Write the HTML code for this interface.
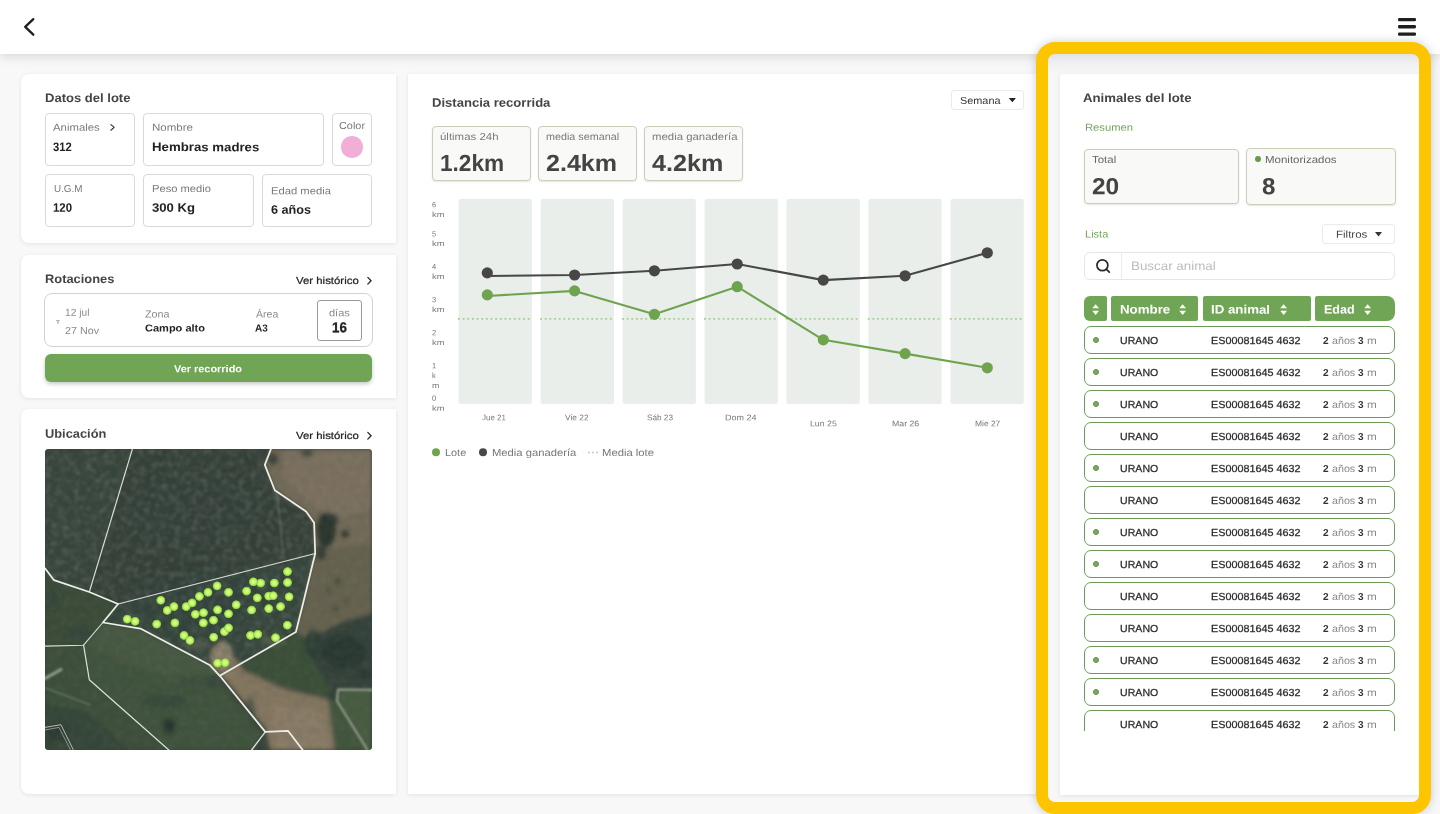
<!DOCTYPE html>
<html><head><meta charset="utf-8"><title>Lote</title>
<style>
html,body{margin:0;padding:0}
body{width:1440px;height:814px;overflow:hidden;position:relative;background:#f8f8f8;font-family:"Liberation Sans",sans-serif;}
#app{position:absolute;left:0;top:0;width:1440px;height:814px;will-change:transform}
.t{position:absolute;white-space:nowrap;line-height:1;display:block}
.b{position:absolute;box-sizing:border-box}
svg{position:absolute;overflow:visible}
.card{background:#fff;box-shadow:0 1px 4px rgba(0,0,0,.09)}
.box{border:1px solid #d9d9d9;border-radius:4px;background:#fff}
.gbox{border:1px solid #c9cfb9;border-radius:4px;background:#f9f9f7;box-shadow:0 1px 2px rgba(0,0,0,.10)}
.row{border:1px solid #6b9a57;border-radius:7px;background:#fff}
.hd{background:#71a556}
</style></head><body>
<div id="app">
<div class="b" style="left:0px;top:0px;width:1440px;height:54px;background:#fff;box-shadow:0 3px 10px rgba(0,0,0,.13);"></div>
<svg style="left:0;top:0" width="60" height="54"><polyline points="33.3,19.1 25.2,26.9 33.3,34.7" fill="none" stroke="#1f1f1f" stroke-width="2.3" stroke-linecap="round" stroke-linejoin="round"/></svg>
<svg style="left:1390px;top:10px" width="34" height="34"><rect x="8" y="7.899999999999999" width="18" height="3.3" rx="1.3" fill="#1f1f1f"/><rect x="8" y="15.100000000000001" width="18" height="3.3" rx="1.3" fill="#1f1f1f"/><rect x="8" y="22.4" width="18" height="3.3" rx="1.3" fill="#1f1f1f"/></svg>
<div class="b card" style="left:21px;top:74px;width:375.4px;height:169px;border-radius:8px 0 0 8px;"></div>
<span class="t" style="left:45.10px;top:92px;font-size:12px;font-weight:700;color:#444;transform-origin:0 10px;transform:translateY(0.00px) rotate(0.03deg) scale(1.086,1.020);">Datos del lote</span>
<div class="b box" style="left:45px;top:113px;width:90px;height:53px;"></div>
<div class="b box" style="left:143px;top:113px;width:181px;height:53px;"></div>
<div class="b box" style="left:332px;top:113px;width:40px;height:53px;"></div>
<div class="b box" style="left:45px;top:174px;width:90px;height:53px;"></div>
<div class="b box" style="left:143px;top:174px;width:110.5px;height:53px;"></div>
<div class="b box" style="left:262px;top:174px;width:110px;height:53px;"></div>
<span class="t" style="left:53.30px;top:123px;font-size:10px;font-weight:400;color:#7a7a7a;transform-origin:0 8px;transform:translateY(-0.20px) rotate(0.03deg) scale(1.136,1.020);">Animales</span>
<svg style="left:108px;top:122px" width="10" height="12"><polyline points="2.9,2.6 6.2,5.4 2.9,8.2" fill="none" stroke="#333" stroke-width="1.2" stroke-linecap="round" stroke-linejoin="round"/></svg>
<span class="t" style="left:53.00px;top:141px;font-size:12px;font-weight:700;color:#222;transform-origin:0 10px;transform:translateY(0.10px) rotate(0.03deg) scale(0.934,1.020);">312</span>
<span class="t" style="left:152.00px;top:123px;font-size:10px;font-weight:400;color:#7a7a7a;transform-origin:0 8px;transform:translateY(-0.20px) rotate(0.03deg) scale(1.153,1.020);">Nombre</span>
<span class="t" style="left:152.00px;top:141px;font-size:12px;font-weight:700;color:#222;transform-origin:0 10px;transform:translateY(0.10px) rotate(0.03deg) scale(1.102,1.020);">Hembras madres</span>
<span class="t" style="left:338.60px;top:121px;font-size:10px;font-weight:400;color:#7a7a7a;transform-origin:0 8px;transform:translateY(-0.10px) rotate(0.03deg) scale(1.088,1.020);">Color</span>
<div class="b" style="left:341px;top:136px;width:21.6px;height:21.6px;background:#f1afd8;border-radius:50%;"></div>
<span class="t" style="left:53.50px;top:184px;font-size:10px;font-weight:400;color:#7a7a7a;transform-origin:0 8px;transform:translateY(0.00px) rotate(0.03deg) scale(0.987,1.020);">U.G.M</span>
<span class="t" style="left:53.00px;top:202px;font-size:12px;font-weight:700;color:#222;transform-origin:0 10px;transform:translateY(-0.20px) rotate(0.03deg) scale(0.949,1.020);">120</span>
<span class="t" style="left:152.00px;top:184px;font-size:10px;font-weight:400;color:#7a7a7a;transform-origin:0 8px;transform:translateY(0.00px) rotate(0.03deg) scale(1.117,1.020);">Peso medio</span>
<span class="t" style="left:152.00px;top:202px;font-size:12px;font-weight:700;color:#222;transform-origin:0 10px;transform:translateY(-0.20px) rotate(0.03deg) scale(1.093,1.020);">300 Kg</span>
<span class="t" style="left:270.80px;top:186px;font-size:10px;font-weight:400;color:#7a7a7a;transform-origin:0 8px;transform:translateY(0.20px) rotate(0.03deg) scale(1.124,1.020);">Edad media</span>
<span class="t" style="left:270.80px;top:204px;font-size:12px;font-weight:700;color:#222;transform-origin:0 10px;transform:translateY(-0.20px) rotate(0.03deg) scale(1.052,1.020);">6 años</span>
<div class="b card" style="left:21px;top:254.5px;width:375.4px;height:143.5px;border-radius:8px 0 0 8px;"></div>
<span class="t" style="left:45.00px;top:273px;font-size:12px;font-weight:700;color:#444;transform-origin:0 10px;transform:translateY(-0.10px) rotate(0.03deg) scale(1.071,1.020);">Rotaciones</span>
<span class="t" style="left:296.00px;top:276px;font-size:10px;font-weight:400;color:#222;transform-origin:0 8px;transform:translateY(0.00px) rotate(0.03deg) scale(1.140,1.020);-webkit-text-stroke:0.22px #222;">Ver histórico</span>
<svg style="left:365px;top:275px" width="10" height="12"><polyline points="2.8,2.4 6.1,5.7 2.8,9.1" fill="none" stroke="#2a2a2a" stroke-width="1.3" stroke-linecap="round" stroke-linejoin="round"/></svg>
<div class="b" style="left:44px;top:293px;width:329px;height:54px;border:1px solid #d2d2d2;border-radius:8px;background:#fff;"></div>
<span class="t" style="left:65.00px;top:308px;font-size:10px;font-weight:400;color:#8a8a8a;transform-origin:0 8px;transform:translateY(-0.20px) rotate(0.03deg) scale(1.021,1.020);">12 jul</span>
<span class="t" style="left:65.00px;top:326px;font-size:10px;font-weight:400;color:#8a8a8a;transform-origin:0 8px;transform:translateY(-0.10px) rotate(0.03deg) scale(1.073,1.020);">27 Nov</span>
<svg style="left:54px;top:318px" width="8" height="8"><path d="M2.1 2 H5.8 V2.9 H4.7 V5.8 H3.2 V2.9 H2.1 Z" fill="#b4b4b4"/></svg>
<span class="t" style="left:145.00px;top:309px;font-size:10px;font-weight:400;color:#8a8a8a;transform-origin:0 8px;transform:translateY(0.40px) rotate(0.03deg) scale(1.079,1.020);">Zona</span>
<span class="t" style="left:145.00px;top:324px;font-size:10px;font-weight:700;color:#222;transform-origin:0 8px;transform:translateY(-0.50px) rotate(0.03deg) scale(1.102,1.020);">Campo alto</span>
<span class="t" style="left:255.50px;top:309px;font-size:10px;font-weight:400;color:#8a8a8a;transform-origin:0 8px;transform:translateY(0.40px) rotate(0.03deg) scale(1.056,1.020);">Área</span>
<span class="t" style="left:255.10px;top:324px;font-size:10px;font-weight:700;color:#222;transform-origin:0 8px;transform:translateY(-0.50px) rotate(0.03deg) scale(1.001,1.020);">A3</span>
<div class="b" style="left:317px;top:300px;width:45px;height:41px;border:1px solid #9a9a9a;border-radius:3px;background:#fff;"></div>
<span class="t" style="left:329.30px;top:308px;font-size:10px;font-weight:400;color:#8a8a8a;transform-origin:0 8px;transform:translateY(0.30px) rotate(0.03deg) scale(1.101,1.020);">días</span>
<span class="t" style="left:331.90px;top:320px;font-size:14px;font-weight:700;color:#222;transform-origin:0 12px;transform:translateY(0.30px) rotate(0.03deg) scale(0.951,1.020);-webkit-text-stroke:0.3px #222;">16</span>
<div class="b" style="left:45px;top:354px;width:327px;height:28px;background:#71a556;border-radius:6px;box-shadow:0 2px 4px rgba(0,0,0,.22);"></div>
<span class="t" style="left:174.40px;top:364px;font-size:10px;font-weight:700;color:#fff;transform-origin:0 8px;transform:translateY(0.20px) rotate(0.03deg) scale(1.092,1.020);">Ver recorrido</span>
<div class="b card" style="left:21px;top:409px;width:375.4px;height:385px;border-radius:8px 0 0 8px;"></div>
<span class="t" style="left:45.00px;top:428px;font-size:12px;font-weight:700;color:#444;transform-origin:0 10px;transform:translateY(-0.20px) rotate(0.03deg) scale(1.069,1.020);">Ubicación</span>
<span class="t" style="left:296.00px;top:431px;font-size:10px;font-weight:400;color:#222;transform-origin:0 8px;transform:translateY(0.00px) rotate(0.03deg) scale(1.140,1.020);-webkit-text-stroke:0.22px #222;">Ver histórico</span>
<svg style="left:365px;top:430px" width="10" height="12"><polyline points="2.8,2.4 6.1,5.7 2.8,9.1" fill="none" stroke="#2a2a2a" stroke-width="1.3" stroke-linecap="round" stroke-linejoin="round"/></svg>
<svg style="left:45px;top:449px" width="327" height="301" viewBox="0 0 327 301"><defs>
<clipPath id="mc"><rect x="0" y="0" width="327" height="301" rx="3.5"/></clipPath>
<filter id="bl" x="-10%" y="-10%" width="120%" height="120%"><feGaussianBlur stdDeviation="2.2"/></filter>
<filter id="bl2" x="-20%" y="-20%" width="140%" height="140%"><feGaussianBlur stdDeviation="4"/></filter>
<filter id="bl1" x="-20%" y="-20%" width="140%" height="140%"><feGaussianBlur stdDeviation="1.3"/></filter>
<filter id="nz" x="0" y="0" width="100%" height="100%"><feTurbulence type="fractalNoise" baseFrequency="0.17" numOctaves="3" seed="7"/><feColorMatrix type="matrix" values="0 0 0 0 0.60  0 0 0 0 0.65  0 0 0 0 0.59  2.4 0 0 0 -1.08"/><feGaussianBlur stdDeviation="1.1"/></filter>
<filter id="nz2" x="0" y="0" width="100%" height="100%"><feTurbulence type="fractalNoise" baseFrequency="0.14" numOctaves="3" seed="3"/><feColorMatrix type="matrix" values="0 0 0 0 0.08  0 0 0 0 0.1  0 0 0 0 0.09  0 2.4 0 0 -1.0"/><feGaussianBlur stdDeviation="1.1"/></filter>
<radialGradient id="dg"><stop offset="0" stop-color="#e0ff9a"/><stop offset="0.35" stop-color="#ccfb78"/><stop offset="0.68" stop-color="#aeea55"/><stop offset="0.86" stop-color="#8fcf43" stop-opacity=".85"/><stop offset="1" stop-color="#7fbf3a" stop-opacity="0"/></radialGradient>
</defs><g clip-path="url(#mc)"><rect width="327" height="301" fill="#35423a"/><g filter="url(#bl)"><polygon points="0,0 87.4,0 44.3,143 9,131 0,119" fill="#37443b" /><polygon points="87.4,0 226,0 220,16 230,41 261,62 269,74 270,104.5 73,155 44.3,143" fill="#343f37" /><polygon points="73,155 270,104.5 251,183 175,227 165,216 95,180 58,173.5" fill="#34443a" /><polygon points="226,0 220,16 230,41 261,62 269,74 270,104.5 259,151 251,183 262,190 300,172 327,160 327,0" fill="#726a58" /><polygon points="240,0 327,0 327,60 290,70 262,52 238,30" fill="#7b715f" /><polygon points="272,100 327,95 327,165 300,172 262,190 252,183 262,140" fill="#666250" /><polygon points="0,119 9,131 44,143 73,155 58,173.5 95,180 165,216 175,227 220,283 207,301 0,301" fill="#3f523e" /><polygon points="0,125 9,131 44,143 73,155 58,173.5 38.6,196 0,197" fill="#3b4c39" /><polygon points="58,174 95,180 165,216 172,226 120,228 60,205 40,196" fill="#465942" /><polygon points="0,197 38.6,196 44.3,231 123.8,301 0,301" fill="#3c4f3b" /><polygon points="0,255 40,262 85,301 0,301" fill="#364739" /><polygon points="197,214 251,184 262,192 270,215 285,240 283,248 240,238 205,223" fill="#3a4f37" /><polygon points="166,200 178,194 192,212 200,222 240,240 283,250 290,301 225,301 221,283 176,228 166,216" fill="#84765f" /><polygon points="225,255 275,262 285,301 232,301" fill="#8a7c66" /><polygon points="283,250 292,252 322,301 290,301" fill="#42553e" /><polygon points="293,240 327,240 327,301 322,301 292,252" fill="#465c41" /></g><g filter="url(#bl)"><ellipse cx="281" cy="81" rx="9.5" ry="17" fill="#29332d" opacity="0.95"/><ellipse cx="287" cy="71" rx="6" ry="6" fill="#2b352e" opacity="0.9"/><ellipse cx="276" cy="103" rx="5" ry="8" fill="#2b352f" opacity="0.8"/><ellipse cx="228" cy="10" rx="5" ry="6" fill="#2a332d" opacity="0.7"/><ellipse cx="262" cy="4" rx="6" ry="4" fill="#3a4238" opacity="0.8"/><ellipse cx="298" cy="203" rx="23" ry="17" fill="#2b3932" opacity="1"/><ellipse cx="268" cy="195" rx="8" ry="14" fill="#2f3d35" opacity="0.9"/><ellipse cx="316" cy="186" rx="9" ry="8" fill="#34443a" opacity="0.7"/><ellipse cx="318" cy="226" rx="8" ry="6" fill="#2d3a33" opacity="0.8"/><ellipse cx="300" cy="85" rx="3.8" ry="3.8" fill="#30372b" opacity="0.95"/><ellipse cx="293" cy="132" rx="3" ry="3" fill="#3b4232" opacity="0.9"/><ellipse cx="283" cy="141" rx="2.6" ry="2.6" fill="#454a38" opacity="0.8"/><ellipse cx="291" cy="160" rx="3" ry="3" fill="#444a38" opacity="0.8"/><ellipse cx="301" cy="152" rx="2.5" ry="2.5" fill="#4a4e3c" opacity="0.7"/><ellipse cx="120" cy="252" rx="22" ry="7" fill="#34463a" opacity="0.75"/><ellipse cx="124" cy="277" rx="6" ry="8" fill="#26332b" opacity="0.9"/><ellipse cx="150" cy="234" rx="20" ry="6" fill="#3a4c3d" opacity="0.6"/><ellipse cx="35" cy="186" rx="12" ry="6" fill="#32433a" opacity="0.7"/><ellipse cx="8" cy="150" rx="7" ry="8" fill="#34453b" opacity="0.6"/><ellipse cx="12" cy="283" rx="10" ry="9" fill="#2c3a32" opacity="0.8"/><ellipse cx="170" cy="232" rx="8" ry="6" fill="#33433a" opacity="0.7"/><polyline points="178,232 200,258 220,284" fill="none" stroke="#2c3a31" stroke-width="5" opacity=".75"/><ellipse cx="205" cy="262" rx="5" ry="14" fill="#3a4a3d" opacity="0.6"/><ellipse cx="150" cy="150" rx="60" ry="30" fill="#34423b" opacity="0.5"/><ellipse cx="150" cy="60" rx="70" ry="40" fill="#34413b" opacity="0.35"/><ellipse cx="178" cy="205" rx="9" ry="13" fill="#8f856e" opacity="0.85"/><ellipse cx="152" cy="196" rx="10" ry="5" fill="#6d705a" opacity="0.5"/><ellipse cx="228" cy="192" rx="14" ry="6" fill="#5f6650" opacity="0.5"/></g><clipPath id="fc"><polygon points="0,0 226,0 220,16 230,41 261,62 269,74 270,104.5 251,183 175,227 165,216 95,180 58,173.5 73,155 44,143 9,131 0,119"/></clipPath><g clip-path="url(#fc)"><rect width="327" height="301" filter="url(#nz2)" opacity=".32"/><rect width="327" height="301" filter="url(#nz)" opacity=".13"/></g><rect width="327" height="301" filter="url(#nz2)" opacity=".2"/><rect width="327" height="301" filter="url(#nz)" opacity=".06"/><g fill="none" stroke-linecap="round" stroke-linejoin="round" filter="url(#bl1)"><polyline points="327,241 293,240.5 292,252 322.5,301" stroke="#9aa091" stroke-width="2.0"/><polyline points="0,229.5 16,220.5" stroke="#8fa088" stroke-width="3"/><polyline points="0,238.7 45,255.7" stroke="#6f866b" stroke-width="1.6" opacity=".7"/><polyline points="232,42 238,104" stroke="#6f7f74" stroke-width="1.6" opacity=".55"/></g><filter id="bl0"><feGaussianBlur stdDeviation="0.35"/></filter><g fill="none" stroke="#eceee8" stroke-linejoin="round" stroke-linecap="round" filter="url(#bl0)"><polyline points="87.4,0 44.3,143" stroke-width="1.1" opacity=".92"/><polyline points="270.2,104.5 73.1,155" stroke-width="1.1" opacity=".9"/><polyline points="57.9,173.5 38.6,196.2 0,197.1" stroke-width="1.1" opacity=".9"/><polyline points="38.6,196.2 44.3,230.7 123.8,301" stroke-width="1.2" opacity=".92"/><polyline points="220.3,282.9 206.6,301" stroke-width="1.3" opacity=".92"/><polyline points="0,278.4 15.9,275.7 28.4,301" stroke-width=".9" opacity=".8"/><polyline points="0,281 14,278.4 25.5,301" stroke-width=".8" opacity=".6"/><polyline points="0,119.2 9,131.2 44.3,143 73.1,155 57.9,173.5 95.4,179.6 164.6,215.9 174.8,226.8 220.3,282.9 243,281.8 257.7,301" stroke-width="1.75"/><polyline points="226,0 219.8,15.9 229.8,41.3 261.1,62.4 269.1,73.8 270.2,104.5 258.9,151 250.9,183 174.8,226.8" stroke-width="1.75"/></g><circle cx="115.8" cy="151.2" r="4.8" fill="url(#dg)"/><circle cx="129" cy="157.6" r="4.8" fill="url(#dg)"/><circle cx="122.2" cy="161.4" r="4.8" fill="url(#dg)"/><circle cx="141.2" cy="157.6" r="4.8" fill="url(#dg)"/><circle cx="147.1" cy="153.9" r="4.8" fill="url(#dg)"/><circle cx="154.4" cy="147.4" r="4.8" fill="url(#dg)"/><circle cx="163" cy="143.3" r="4.8" fill="url(#dg)"/><circle cx="183.5" cy="143.3" r="4.8" fill="url(#dg)"/><circle cx="201.6" cy="142.1" r="4.8" fill="url(#dg)"/><circle cx="212.3" cy="148.9" r="4.8" fill="url(#dg)"/><circle cx="223.7" cy="147.1" r="4.8" fill="url(#dg)"/><circle cx="228.2" cy="146.7" r="4.8" fill="url(#dg)"/><circle cx="244.1" cy="147.8" r="4.8" fill="url(#dg)"/><circle cx="235.5" cy="157.6" r="4.8" fill="url(#dg)"/><circle cx="223.7" cy="159.6" r="4.8" fill="url(#dg)"/><circle cx="206.6" cy="161" r="4.8" fill="url(#dg)"/><circle cx="191.2" cy="155.8" r="4.8" fill="url(#dg)"/><circle cx="183.5" cy="164.8" r="4.8" fill="url(#dg)"/><circle cx="172.6" cy="160.8" r="4.8" fill="url(#dg)"/><circle cx="158.5" cy="163.7" r="4.8" fill="url(#dg)"/><circle cx="150.3" cy="165.3" r="4.8" fill="url(#dg)"/><circle cx="168.5" cy="171.2" r="4.8" fill="url(#dg)"/><circle cx="158.3" cy="173.9" r="4.8" fill="url(#dg)"/><circle cx="129.9" cy="173.9" r="4.8" fill="url(#dg)"/><circle cx="111.7" cy="175.1" r="4.8" fill="url(#dg)"/><circle cx="82.2" cy="170.1" r="4.8" fill="url(#dg)"/><circle cx="90.1" cy="172.3" r="4.8" fill="url(#dg)"/><circle cx="139" cy="186.4" r="4.8" fill="url(#dg)"/><circle cx="144.9" cy="191.4" r="4.8" fill="url(#dg)"/><circle cx="168.7" cy="188.2" r="4.8" fill="url(#dg)"/><circle cx="179.4" cy="182.6" r="4.8" fill="url(#dg)"/><circle cx="183.5" cy="178.9" r="4.8" fill="url(#dg)"/><circle cx="205.5" cy="186.4" r="4.8" fill="url(#dg)"/><circle cx="212.8" cy="185.3" r="4.8" fill="url(#dg)"/><circle cx="230.5" cy="188.7" r="4.8" fill="url(#dg)"/><circle cx="242.3" cy="176.2" r="4.8" fill="url(#dg)"/><circle cx="172.6" cy="214.1" r="4.8" fill="url(#dg)"/><circle cx="180.1" cy="213.7" r="4.8" fill="url(#dg)"/><circle cx="242.5" cy="122.6" r="4.8" fill="url(#dg)"/><circle cx="242.5" cy="133.5" r="4.8" fill="url(#dg)"/><circle cx="229.3" cy="134" r="4.8" fill="url(#dg)"/><circle cx="215.7" cy="134" r="4.8" fill="url(#dg)"/><circle cx="208.4" cy="132.8" r="4.8" fill="url(#dg)"/><circle cx="172.1" cy="136.9" r="4.8" fill="url(#dg)"/></g></svg>
<div class="b card" style="left:408px;top:74px;width:632px;height:720px;border-radius:0;"></div>
<span class="t" style="left:431.90px;top:97px;font-size:12px;font-weight:700;color:#444;transform-origin:0 10px;transform:translateY(-0.20px) rotate(0.03deg) scale(1.089,1.020);">Distancia recorrida</span>
<div class="b" style="left:951px;top:90px;width:73px;height:20px;border:1px solid #ebebeb;border-radius:3px;background:#fff;"></div>
<span class="t" style="left:959.80px;top:96px;font-size:10px;font-weight:400;color:#333;transform-origin:0 8px;transform:translateY(-0.10px) rotate(0.03deg) scale(1.087,1.020);">Semana</span>
<svg style="left:1008px;top:97px" width="9" height="6"><polygon points="0.8,1 7.9,1 4.35,5.3" fill="#222"/></svg>
<div class="b gbox" style="left:432px;top:126px;width:99px;height:55px;"></div>
<span class="t" style="left:440.30px;top:132px;font-size:10px;font-weight:400;color:#7a7a7a;transform-origin:0 8px;transform:translateY(0.00px) rotate(0.03deg) scale(1.144,1.020);">últimas 24h</span>
<span class="t" style="left:440.00px;top:152px;font-size:23px;font-weight:700;color:#444;transform-origin:0 19px;transform:translateY(0.00px) rotate(0.03deg) scale(0.984,1.020);">1.2km</span>
<div class="b gbox" style="left:538px;top:126px;width:99px;height:55px;"></div>
<span class="t" style="left:546.30px;top:132px;font-size:10px;font-weight:400;color:#7a7a7a;transform-origin:0 8px;transform:translateY(0.00px) rotate(0.03deg) scale(1.077,1.020);">media semanal</span>
<span class="t" style="left:546.00px;top:152px;font-size:23px;font-weight:700;color:#444;transform-origin:0 19px;transform:translateY(0.00px) rotate(0.03deg) scale(1.089,1.020);">2.4km</span>
<div class="b gbox" style="left:644px;top:126px;width:99px;height:55px;"></div>
<span class="t" style="left:652.30px;top:132px;font-size:10px;font-weight:400;color:#7a7a7a;transform-origin:0 8px;transform:translateY(0.00px) rotate(0.03deg) scale(1.139,1.020);">media ganadería</span>
<span class="t" style="left:652.00px;top:152px;font-size:23px;font-weight:700;color:#444;transform-origin:0 19px;transform:translateY(0.00px) rotate(0.03deg) scale(1.093,1.020);">4.2km</span>
<svg style="left:0;top:0" width="1440" height="814"><rect x="458.6" y="198.8" width="73.3" height="205.2" rx="2.5" fill="#e9eeeb"/><rect x="540.7" y="198.8" width="73.3" height="205.2" rx="2.5" fill="#e9eeeb"/><rect x="622.6" y="198.8" width="73.3" height="205.2" rx="2.5" fill="#e9eeeb"/><rect x="704.6" y="198.8" width="73.3" height="205.2" rx="2.5" fill="#e9eeeb"/><rect x="786.5" y="198.8" width="73.3" height="205.2" rx="2.5" fill="#e9eeeb"/><rect x="868.4" y="198.8" width="73.3" height="205.2" rx="2.5" fill="#e9eeeb"/><rect x="950.5" y="198.8" width="73.3" height="205.2" rx="2.5" fill="#e9eeeb"/><line x1="458.0" y1="318.9" x2="532.4" y2="318.9" stroke="#a8cf97" stroke-width="1.6" stroke-dasharray="1.9 2.75" /><line x1="540.1" y1="318.9" x2="614.5" y2="318.9" stroke="#a8cf97" stroke-width="1.6" stroke-dasharray="1.9 2.75" /><line x1="622.0" y1="318.9" x2="696.4" y2="318.9" stroke="#a8cf97" stroke-width="1.6" stroke-dasharray="1.9 2.75" /><line x1="704.0" y1="318.9" x2="778.4" y2="318.9" stroke="#a8cf97" stroke-width="1.6" stroke-dasharray="1.9 2.75" /><line x1="785.9" y1="318.9" x2="860.3" y2="318.9" stroke="#a8cf97" stroke-width="1.6" stroke-dasharray="1.9 2.75" /><line x1="867.8" y1="318.9" x2="942.1999999999999" y2="318.9" stroke="#a8cf97" stroke-width="1.6" stroke-dasharray="1.9 2.75" /><line x1="949.9" y1="318.9" x2="1024.3" y2="318.9" stroke="#a8cf97" stroke-width="1.6" stroke-dasharray="1.9 2.75" /><polyline fill="none" stroke="#6fa44f" stroke-width="2.1" stroke-linejoin="round" points="487.3,296.0 574.6,290.9 654.4,314.3 737.2,286.7 823.3,339.8 905.1,353.6 987.3,367.8"/><polyline fill="none" stroke="#474747" stroke-width="2.1" stroke-linejoin="round" points="487.3,276.0 574.6,275.0 654.4,270.8 737.2,264.0 823.3,280.1 905.1,275.8 987.3,252.8"/><circle cx="487.3" cy="294.9" r="5.6" fill="#6fa44f"/><circle cx="574.6" cy="290.9" r="5.6" fill="#6fa44f"/><circle cx="654.4" cy="314.3" r="5.6" fill="#6fa44f"/><circle cx="737.2" cy="286.7" r="5.6" fill="#6fa44f"/><circle cx="823.3" cy="339.8" r="5.6" fill="#6fa44f"/><circle cx="905.1" cy="353.6" r="5.6" fill="#6fa44f"/><circle cx="987.3" cy="367.8" r="5.6" fill="#6fa44f"/><circle cx="487.3" cy="272.9" r="5.6" fill="#474747"/><circle cx="574.6" cy="275.0" r="5.6" fill="#474747"/><circle cx="654.4" cy="270.8" r="5.6" fill="#474747"/><circle cx="737.2" cy="264.0" r="5.6" fill="#474747"/><circle cx="823.3" cy="280.1" r="5.6" fill="#474747"/><circle cx="905.1" cy="275.8" r="5.6" fill="#474747"/><circle cx="987.3" cy="252.8" r="5.6" fill="#474747"/><circle cx="436" cy="452.2" r="4" fill="#6fa44f"/><circle cx="483" cy="452.2" r="4" fill="#474747"/><circle cx="588.8" cy="452.6" r="1" fill="#b5d6a6"/><circle cx="593.0" cy="452.6" r="1" fill="#b5d6a6"/><circle cx="597.1999999999999" cy="452.6" r="1" fill="#b5d6a6"/></svg>
<span class="t" style="left:432.00px;top:201px;font-size:7.5px;font-weight:400;color:#777;transform-origin:0 6px;transform:translateY(0.30px) rotate(0.03deg) scale(1.000,1.020);">6</span>
<span class="t" style="left:432.00px;top:211px;font-size:7.5px;font-weight:400;color:#777;transform-origin:0 6px;transform:translateY(-0.10px) rotate(0.03deg) scale(1.250,1.020);">km</span>
<span class="t" style="left:432.00px;top:230px;font-size:7.5px;font-weight:400;color:#777;transform-origin:0 6px;transform:translateY(0.50px) rotate(0.03deg) scale(1.000,1.020);">5</span>
<span class="t" style="left:432.00px;top:240px;font-size:7.5px;font-weight:400;color:#777;transform-origin:0 6px;transform:translateY(0.10px) rotate(0.03deg) scale(1.250,1.020);">km</span>
<span class="t" style="left:432.00px;top:263px;font-size:7.5px;font-weight:400;color:#777;transform-origin:0 6px;transform:translateY(0.30px) rotate(0.03deg) scale(1.000,1.020);">4</span>
<span class="t" style="left:432.00px;top:273px;font-size:7.5px;font-weight:400;color:#777;transform-origin:0 6px;transform:translateY(-0.10px) rotate(0.03deg) scale(1.250,1.020);">km</span>
<span class="t" style="left:432.00px;top:296px;font-size:7.5px;font-weight:400;color:#777;transform-origin:0 6px;transform:translateY(0.30px) rotate(0.03deg) scale(1.000,1.020);">3</span>
<span class="t" style="left:432.00px;top:306px;font-size:7.5px;font-weight:400;color:#777;transform-origin:0 6px;transform:translateY(-0.10px) rotate(0.03deg) scale(1.250,1.020);">km</span>
<span class="t" style="left:432.00px;top:329px;font-size:7.5px;font-weight:400;color:#777;transform-origin:0 6px;transform:translateY(0.30px) rotate(0.03deg) scale(1.000,1.020);">2</span>
<span class="t" style="left:432.00px;top:339px;font-size:7.5px;font-weight:400;color:#777;transform-origin:0 6px;transform:translateY(-0.10px) rotate(0.03deg) scale(1.250,1.020);">km</span>
<span class="t" style="left:432.00px;top:362px;font-size:7.5px;font-weight:400;color:#777;transform-origin:0 6px;transform:translateY(0.30px) rotate(0.03deg) scale(1.000,1.020);">1</span>
<span class="t" style="left:432.00px;top:372px;font-size:7.5px;font-weight:400;color:#777;transform-origin:0 6px;transform:translateY(0.10px) rotate(0.03deg) scale(1.000,1.020);">k</span>
<span class="t" style="left:432.00px;top:382px;font-size:7.5px;font-weight:400;color:#777;transform-origin:0 6px;transform:translateY(0.00px) rotate(0.03deg) scale(1.201,1.020);">m</span>
<span class="t" style="left:432.00px;top:395px;font-size:7.5px;font-weight:400;color:#777;transform-origin:0 6px;transform:translateY(-0.20px) rotate(0.03deg) scale(1.000,1.020);">0</span>
<span class="t" style="left:432.00px;top:405px;font-size:7.5px;font-weight:400;color:#777;transform-origin:0 6px;transform:translateY(-0.20px) rotate(0.03deg) scale(1.250,1.020);">km</span>
<span class="t" style="left:481.50px;top:414px;font-size:8px;font-weight:400;color:#777;transform-origin:0 6px;transform:translateY(0.20px) rotate(0.03deg) scale(0.999,1.020);">Jue 21</span>
<span class="t" style="left:565.20px;top:414px;font-size:8px;font-weight:400;color:#777;transform-origin:0 6px;transform:translateY(0.20px) rotate(0.03deg) scale(1.047,1.020);">Vie 22</span>
<span class="t" style="left:646.70px;top:414px;font-size:8px;font-weight:400;color:#777;transform-origin:0 6px;transform:translateY(0.20px) rotate(0.03deg) scale(1.025,1.020);">Sáb 23</span>
<span class="t" style="left:725.30px;top:414px;font-size:8px;font-weight:400;color:#777;transform-origin:0 6px;transform:translateY(0.20px) rotate(0.03deg) scale(1.121,1.020);">Dom 24</span>
<span class="t" style="left:810.20px;top:420px;font-size:8px;font-weight:400;color:#777;transform-origin:0 6px;transform:translateY(0.20px) rotate(0.03deg) scale(1.095,1.020);">Lun 25</span>
<span class="t" style="left:891.70px;top:420px;font-size:8px;font-weight:400;color:#777;transform-origin:0 6px;transform:translateY(0.20px) rotate(0.03deg) scale(1.093,1.020);">Mar 26</span>
<span class="t" style="left:974.55px;top:420px;font-size:8px;font-weight:400;color:#777;transform-origin:0 6px;transform:translateY(0.20px) rotate(0.03deg) scale(1.054,1.020);">Mie 27</span>
<span class="t" style="left:444.60px;top:448px;font-size:10px;font-weight:400;color:#777;transform-origin:0 8px;transform:translateY(0.00px) rotate(0.03deg) scale(1.089,1.020);">Lote</span>
<span class="t" style="left:491.50px;top:448px;font-size:10px;font-weight:400;color:#777;transform-origin:0 8px;transform:translateY(0.00px) rotate(0.03deg) scale(1.123,1.020);">Media ganadería</span>
<span class="t" style="left:601.70px;top:448px;font-size:10px;font-weight:400;color:#777;transform-origin:0 8px;transform:translateY(0.00px) rotate(0.03deg) scale(1.127,1.020);">Media lote</span>
<div class="b" style="left:1048px;top:54px;width:371px;height:748px;overflow:hidden;background:#f7f7f8;border-radius:6px;"><div style="position:absolute;left:-1048px;top:-54px;width:1440px;height:814px;">
<div class="b" style="left:1048px;top:54px;width:372px;height:20px;background:linear-gradient(#e2e3e6,#f0f0f2 45%,#f7f7f8);"></div>
<div class="b card" style="border-radius:2px 0 0 2px;left:1060px;top:74px;width:380px;height:721px;"></div>
<span class="t" style="left:1083.40px;top:92px;font-size:12px;font-weight:700;color:#444;transform-origin:0 10px;transform:translateY(0.00px) rotate(0.03deg) scale(1.099,1.020);">Animales del lote</span>
<span class="t" style="left:1084.70px;top:123px;font-size:10px;font-weight:400;color:#73a55a;transform-origin:0 8px;transform:translateY(-0.20px) rotate(0.03deg) scale(1.122,1.020);">Resumen</span>
<div class="b gbox" style="left:1084px;top:149px;width:155px;height:55px;"></div>
<span class="t" style="left:1092.20px;top:155px;font-size:10px;font-weight:400;color:#666;transform-origin:0 8px;transform:translateY(0.00px) rotate(0.03deg) scale(1.146,1.020);">Total</span>
<span class="t" style="left:1092.00px;top:175px;font-size:23px;font-weight:700;color:#444;transform-origin:0 19px;transform:translateY(0.20px) rotate(0.03deg) scale(1.063,1.020);">20</span>
<div class="b gbox" style="left:1246px;top:148px;width:150px;height:57px;"></div>
<div class="b" style="left:1254.9px;top:156.3px;width:6.2px;height:6.2px;background:#67994d;border-radius:50%;"></div>
<span class="t" style="left:1265.40px;top:155px;font-size:10px;font-weight:400;color:#666;transform-origin:0 8px;transform:translateY(0.00px) rotate(0.03deg) scale(1.150,1.020);">Monitorizados</span>
<span class="t" style="left:1261.70px;top:175px;font-size:23px;font-weight:700;color:#444;transform-origin:0 19px;transform:translateY(0.20px) rotate(0.03deg) scale(1.048,1.020);">8</span>
<span class="t" style="left:1084.70px;top:230px;font-size:10px;font-weight:400;color:#73a55a;transform-origin:0 8px;transform:translateY(-0.40px) rotate(0.03deg) scale(1.103,1.020);">Lista</span>
<div class="b" style="left:1322px;top:224px;width:73px;height:20px;border:1px solid #ebebeb;border-radius:3px;background:#fff;"></div>
<span class="t" style="left:1335.50px;top:230px;font-size:10px;font-weight:400;color:#444;transform-origin:0 8px;transform:translateY(-0.20px) rotate(0.03deg) scale(1.150,1.020);">Filtros</span>
<svg style="left:1374px;top:231px" width="9" height="6"><polygon points="1,1 8,1 4.5,5.4" fill="#333"/></svg>
<div class="b" style="left:1084px;top:252px;width:311px;height:28px;border:1px solid #e6e6e6;border-radius:6px;background:#fff;"></div>
<div class="b" style="left:1121.4px;top:253px;width:1px;height:26px;background:#ececec;"></div>
<svg style="left:1094px;top:257px" width="18" height="18"><circle cx="8.4" cy="8.25" r="5.45" fill="none" stroke="#2a2a2a" stroke-width="1.7"/><line x1="12.5" y1="12.4" x2="15.3" y2="15.1" stroke="#2a2a2a" stroke-width="1.8" stroke-linecap="round"/></svg>
<span class="t" style="left:1130.70px;top:260px;font-size:12px;font-weight:400;color:#bdbdbd;transform-origin:0 10px;transform:translateY(-0.10px) rotate(0.03deg) scale(1.114,1.020);">Buscar animal</span>
<div class="b" style="left:1084.4px;top:296.4px;width:22.4px;height:25px;background:#71a556;border-radius:6px 2px 2px 6px;"></div>
<div class="b" style="left:1111.4px;top:296.4px;width:87.1px;height:25px;background:#71a556;border-radius:2px;"></div>
<div class="b" style="left:1203px;top:296.4px;width:107.5px;height:25px;background:#71a556;border-radius:2px;"></div>
<div class="b" style="left:1315.3px;top:296.4px;width:79.3px;height:25px;background:#71a556;border-radius:2px 8px 8px 2px;"></div>
<svg style="left:1091.8px;top:303.5px" width="8" height="12"><polygon points="0.3,4.3 3.65,0.3 7,4.3" fill="#fff"/><polygon points="0.3,6.8 3.65,11 7,6.8" fill="#fff"/></svg>
<span class="t" style="left:1119.60px;top:304px;font-size:12px;font-weight:700;color:#fff;transform-origin:0 10px;transform:translateY(-0.40px) rotate(0.03deg) scale(1.107,1.020);">Nombre</span>
<svg style="left:1178.7px;top:303.5px" width="8" height="12"><polygon points="0.3,4.3 3.65,0.3 7,4.3" fill="#fff"/><polygon points="0.3,6.8 3.65,11 7,6.8" fill="#fff"/></svg>
<span class="t" style="left:1211.40px;top:304px;font-size:12px;font-weight:700;color:#fff;transform-origin:0 10px;transform:translateY(-0.40px) rotate(0.03deg) scale(1.106,1.020);">ID animal</span>
<svg style="left:1279.8px;top:303.5px" width="8" height="12"><polygon points="0.3,4.3 3.65,0.3 7,4.3" fill="#fff"/><polygon points="0.3,6.8 3.65,11 7,6.8" fill="#fff"/></svg>
<span class="t" style="left:1323.70px;top:304px;font-size:12px;font-weight:700;color:#fff;transform-origin:0 10px;transform:translateY(-0.40px) rotate(0.03deg) scale(1.043,1.020);">Edad</span>
<svg style="left:1363.7px;top:303.5px" width="8" height="12"><polygon points="0.3,4.3 3.65,0.3 7,4.3" fill="#fff"/><polygon points="0.3,6.8 3.65,11 7,6.8" fill="#fff"/></svg>
<div class="b row" style="left:1084px;top:326px;width:311px;height:28px;"></div>
<div class="b" style="left:1092.9px;top:336.9px;width:6.2px;height:6.2px;background:#78ab5f;border:1.2px solid #5f9149;border-radius:50%;"></div>
<span class="t" style="left:1119.60px;top:336px;font-size:10px;font-weight:400;color:#2a2a2a;transform-origin:0 8px;transform:translateY(0.00px) rotate(0.03deg) scale(1.061,1.020);-webkit-text-stroke:0.25px #2a2a2a;">URANO</span>
<span class="t" style="left:1211.40px;top:336px;font-size:10px;font-weight:400;color:#2a2a2a;transform-origin:0 8px;transform:translateY(0.00px) rotate(0.03deg) scale(1.079,1.020);-webkit-text-stroke:0.25px #2a2a2a;">ES00081645 4632</span>
<span class="t" style="left:1322.80px;top:336px;font-size:10px;font-weight:700;color:#333;transform-origin:0 8px;transform:translateY(0.00px) rotate(0.03deg) scale(1.007,1.020);">2</span>
<span class="t" style="left:1331.80px;top:336px;font-size:10px;font-weight:400;color:#888;transform-origin:0 8px;transform:translateY(0.00px) rotate(0.03deg) scale(1.070,1.020);">años</span>
<span class="t" style="left:1357.60px;top:336px;font-size:10px;font-weight:700;color:#333;transform-origin:0 8px;transform:translateY(0.00px) rotate(0.03deg) scale(1.007,1.020);">3</span>
<span class="t" style="left:1366.60px;top:336px;font-size:10px;font-weight:400;color:#888;transform-origin:0 8px;transform:translateY(0.00px) rotate(0.03deg) scale(1.177,1.020);">m</span>
<div class="b row" style="left:1084px;top:358px;width:311px;height:28px;"></div>
<div class="b" style="left:1092.9px;top:368.9px;width:6.2px;height:6.2px;background:#78ab5f;border:1.2px solid #5f9149;border-radius:50%;"></div>
<span class="t" style="left:1119.60px;top:368px;font-size:10px;font-weight:400;color:#2a2a2a;transform-origin:0 8px;transform:translateY(0.00px) rotate(0.03deg) scale(1.061,1.020);-webkit-text-stroke:0.25px #2a2a2a;">URANO</span>
<span class="t" style="left:1211.40px;top:368px;font-size:10px;font-weight:400;color:#2a2a2a;transform-origin:0 8px;transform:translateY(0.00px) rotate(0.03deg) scale(1.079,1.020);-webkit-text-stroke:0.25px #2a2a2a;">ES00081645 4632</span>
<span class="t" style="left:1322.80px;top:368px;font-size:10px;font-weight:700;color:#333;transform-origin:0 8px;transform:translateY(0.00px) rotate(0.03deg) scale(1.007,1.020);">2</span>
<span class="t" style="left:1331.80px;top:368px;font-size:10px;font-weight:400;color:#888;transform-origin:0 8px;transform:translateY(0.00px) rotate(0.03deg) scale(1.070,1.020);">años</span>
<span class="t" style="left:1357.60px;top:368px;font-size:10px;font-weight:700;color:#333;transform-origin:0 8px;transform:translateY(0.00px) rotate(0.03deg) scale(1.007,1.020);">3</span>
<span class="t" style="left:1366.60px;top:368px;font-size:10px;font-weight:400;color:#888;transform-origin:0 8px;transform:translateY(0.00px) rotate(0.03deg) scale(1.177,1.020);">m</span>
<div class="b row" style="left:1084px;top:390px;width:311px;height:28px;"></div>
<div class="b" style="left:1092.9px;top:400.9px;width:6.2px;height:6.2px;background:#78ab5f;border:1.2px solid #5f9149;border-radius:50%;"></div>
<span class="t" style="left:1119.60px;top:400px;font-size:10px;font-weight:400;color:#2a2a2a;transform-origin:0 8px;transform:translateY(0.00px) rotate(0.03deg) scale(1.061,1.020);-webkit-text-stroke:0.25px #2a2a2a;">URANO</span>
<span class="t" style="left:1211.40px;top:400px;font-size:10px;font-weight:400;color:#2a2a2a;transform-origin:0 8px;transform:translateY(0.00px) rotate(0.03deg) scale(1.079,1.020);-webkit-text-stroke:0.25px #2a2a2a;">ES00081645 4632</span>
<span class="t" style="left:1322.80px;top:400px;font-size:10px;font-weight:700;color:#333;transform-origin:0 8px;transform:translateY(0.00px) rotate(0.03deg) scale(1.007,1.020);">2</span>
<span class="t" style="left:1331.80px;top:400px;font-size:10px;font-weight:400;color:#888;transform-origin:0 8px;transform:translateY(0.00px) rotate(0.03deg) scale(1.070,1.020);">años</span>
<span class="t" style="left:1357.60px;top:400px;font-size:10px;font-weight:700;color:#333;transform-origin:0 8px;transform:translateY(0.00px) rotate(0.03deg) scale(1.007,1.020);">3</span>
<span class="t" style="left:1366.60px;top:400px;font-size:10px;font-weight:400;color:#888;transform-origin:0 8px;transform:translateY(0.00px) rotate(0.03deg) scale(1.177,1.020);">m</span>
<div class="b row" style="left:1084px;top:422px;width:311px;height:28px;"></div>
<span class="t" style="left:1119.60px;top:432px;font-size:10px;font-weight:400;color:#2a2a2a;transform-origin:0 8px;transform:translateY(0.00px) rotate(0.03deg) scale(1.061,1.020);-webkit-text-stroke:0.25px #2a2a2a;">URANO</span>
<span class="t" style="left:1211.40px;top:432px;font-size:10px;font-weight:400;color:#2a2a2a;transform-origin:0 8px;transform:translateY(0.00px) rotate(0.03deg) scale(1.079,1.020);-webkit-text-stroke:0.25px #2a2a2a;">ES00081645 4632</span>
<span class="t" style="left:1322.80px;top:432px;font-size:10px;font-weight:700;color:#333;transform-origin:0 8px;transform:translateY(0.00px) rotate(0.03deg) scale(1.007,1.020);">2</span>
<span class="t" style="left:1331.80px;top:432px;font-size:10px;font-weight:400;color:#888;transform-origin:0 8px;transform:translateY(0.00px) rotate(0.03deg) scale(1.070,1.020);">años</span>
<span class="t" style="left:1357.60px;top:432px;font-size:10px;font-weight:700;color:#333;transform-origin:0 8px;transform:translateY(0.00px) rotate(0.03deg) scale(1.007,1.020);">3</span>
<span class="t" style="left:1366.60px;top:432px;font-size:10px;font-weight:400;color:#888;transform-origin:0 8px;transform:translateY(0.00px) rotate(0.03deg) scale(1.177,1.020);">m</span>
<div class="b row" style="left:1084px;top:454px;width:311px;height:28px;"></div>
<div class="b" style="left:1092.9px;top:464.9px;width:6.2px;height:6.2px;background:#78ab5f;border:1.2px solid #5f9149;border-radius:50%;"></div>
<span class="t" style="left:1119.60px;top:464px;font-size:10px;font-weight:400;color:#2a2a2a;transform-origin:0 8px;transform:translateY(0.00px) rotate(0.03deg) scale(1.061,1.020);-webkit-text-stroke:0.25px #2a2a2a;">URANO</span>
<span class="t" style="left:1211.40px;top:464px;font-size:10px;font-weight:400;color:#2a2a2a;transform-origin:0 8px;transform:translateY(0.00px) rotate(0.03deg) scale(1.079,1.020);-webkit-text-stroke:0.25px #2a2a2a;">ES00081645 4632</span>
<span class="t" style="left:1322.80px;top:464px;font-size:10px;font-weight:700;color:#333;transform-origin:0 8px;transform:translateY(0.00px) rotate(0.03deg) scale(1.007,1.020);">2</span>
<span class="t" style="left:1331.80px;top:464px;font-size:10px;font-weight:400;color:#888;transform-origin:0 8px;transform:translateY(0.00px) rotate(0.03deg) scale(1.070,1.020);">años</span>
<span class="t" style="left:1357.60px;top:464px;font-size:10px;font-weight:700;color:#333;transform-origin:0 8px;transform:translateY(0.00px) rotate(0.03deg) scale(1.007,1.020);">3</span>
<span class="t" style="left:1366.60px;top:464px;font-size:10px;font-weight:400;color:#888;transform-origin:0 8px;transform:translateY(0.00px) rotate(0.03deg) scale(1.177,1.020);">m</span>
<div class="b row" style="left:1084px;top:486px;width:311px;height:28px;"></div>
<span class="t" style="left:1119.60px;top:496px;font-size:10px;font-weight:400;color:#2a2a2a;transform-origin:0 8px;transform:translateY(0.00px) rotate(0.03deg) scale(1.061,1.020);-webkit-text-stroke:0.25px #2a2a2a;">URANO</span>
<span class="t" style="left:1211.40px;top:496px;font-size:10px;font-weight:400;color:#2a2a2a;transform-origin:0 8px;transform:translateY(0.00px) rotate(0.03deg) scale(1.079,1.020);-webkit-text-stroke:0.25px #2a2a2a;">ES00081645 4632</span>
<span class="t" style="left:1322.80px;top:496px;font-size:10px;font-weight:700;color:#333;transform-origin:0 8px;transform:translateY(0.00px) rotate(0.03deg) scale(1.007,1.020);">2</span>
<span class="t" style="left:1331.80px;top:496px;font-size:10px;font-weight:400;color:#888;transform-origin:0 8px;transform:translateY(0.00px) rotate(0.03deg) scale(1.070,1.020);">años</span>
<span class="t" style="left:1357.60px;top:496px;font-size:10px;font-weight:700;color:#333;transform-origin:0 8px;transform:translateY(0.00px) rotate(0.03deg) scale(1.007,1.020);">3</span>
<span class="t" style="left:1366.60px;top:496px;font-size:10px;font-weight:400;color:#888;transform-origin:0 8px;transform:translateY(0.00px) rotate(0.03deg) scale(1.177,1.020);">m</span>
<div class="b row" style="left:1084px;top:518px;width:311px;height:28px;"></div>
<div class="b" style="left:1092.9px;top:528.9px;width:6.2px;height:6.2px;background:#78ab5f;border:1.2px solid #5f9149;border-radius:50%;"></div>
<span class="t" style="left:1119.60px;top:528px;font-size:10px;font-weight:400;color:#2a2a2a;transform-origin:0 8px;transform:translateY(0.00px) rotate(0.03deg) scale(1.061,1.020);-webkit-text-stroke:0.25px #2a2a2a;">URANO</span>
<span class="t" style="left:1211.40px;top:528px;font-size:10px;font-weight:400;color:#2a2a2a;transform-origin:0 8px;transform:translateY(0.00px) rotate(0.03deg) scale(1.079,1.020);-webkit-text-stroke:0.25px #2a2a2a;">ES00081645 4632</span>
<span class="t" style="left:1322.80px;top:528px;font-size:10px;font-weight:700;color:#333;transform-origin:0 8px;transform:translateY(0.00px) rotate(0.03deg) scale(1.007,1.020);">2</span>
<span class="t" style="left:1331.80px;top:528px;font-size:10px;font-weight:400;color:#888;transform-origin:0 8px;transform:translateY(0.00px) rotate(0.03deg) scale(1.070,1.020);">años</span>
<span class="t" style="left:1357.60px;top:528px;font-size:10px;font-weight:700;color:#333;transform-origin:0 8px;transform:translateY(0.00px) rotate(0.03deg) scale(1.007,1.020);">3</span>
<span class="t" style="left:1366.60px;top:528px;font-size:10px;font-weight:400;color:#888;transform-origin:0 8px;transform:translateY(0.00px) rotate(0.03deg) scale(1.177,1.020);">m</span>
<div class="b row" style="left:1084px;top:550px;width:311px;height:28px;"></div>
<div class="b" style="left:1092.9px;top:560.9px;width:6.2px;height:6.2px;background:#78ab5f;border:1.2px solid #5f9149;border-radius:50%;"></div>
<span class="t" style="left:1119.60px;top:560px;font-size:10px;font-weight:400;color:#2a2a2a;transform-origin:0 8px;transform:translateY(0.00px) rotate(0.03deg) scale(1.061,1.020);-webkit-text-stroke:0.25px #2a2a2a;">URANO</span>
<span class="t" style="left:1211.40px;top:560px;font-size:10px;font-weight:400;color:#2a2a2a;transform-origin:0 8px;transform:translateY(0.00px) rotate(0.03deg) scale(1.079,1.020);-webkit-text-stroke:0.25px #2a2a2a;">ES00081645 4632</span>
<span class="t" style="left:1322.80px;top:560px;font-size:10px;font-weight:700;color:#333;transform-origin:0 8px;transform:translateY(0.00px) rotate(0.03deg) scale(1.007,1.020);">2</span>
<span class="t" style="left:1331.80px;top:560px;font-size:10px;font-weight:400;color:#888;transform-origin:0 8px;transform:translateY(0.00px) rotate(0.03deg) scale(1.070,1.020);">años</span>
<span class="t" style="left:1357.60px;top:560px;font-size:10px;font-weight:700;color:#333;transform-origin:0 8px;transform:translateY(0.00px) rotate(0.03deg) scale(1.007,1.020);">3</span>
<span class="t" style="left:1366.60px;top:560px;font-size:10px;font-weight:400;color:#888;transform-origin:0 8px;transform:translateY(0.00px) rotate(0.03deg) scale(1.177,1.020);">m</span>
<div class="b row" style="left:1084px;top:582px;width:311px;height:28px;"></div>
<span class="t" style="left:1119.60px;top:592px;font-size:10px;font-weight:400;color:#2a2a2a;transform-origin:0 8px;transform:translateY(0.00px) rotate(0.03deg) scale(1.061,1.020);-webkit-text-stroke:0.25px #2a2a2a;">URANO</span>
<span class="t" style="left:1211.40px;top:592px;font-size:10px;font-weight:400;color:#2a2a2a;transform-origin:0 8px;transform:translateY(0.00px) rotate(0.03deg) scale(1.079,1.020);-webkit-text-stroke:0.25px #2a2a2a;">ES00081645 4632</span>
<span class="t" style="left:1322.80px;top:592px;font-size:10px;font-weight:700;color:#333;transform-origin:0 8px;transform:translateY(0.00px) rotate(0.03deg) scale(1.007,1.020);">2</span>
<span class="t" style="left:1331.80px;top:592px;font-size:10px;font-weight:400;color:#888;transform-origin:0 8px;transform:translateY(0.00px) rotate(0.03deg) scale(1.070,1.020);">años</span>
<span class="t" style="left:1357.60px;top:592px;font-size:10px;font-weight:700;color:#333;transform-origin:0 8px;transform:translateY(0.00px) rotate(0.03deg) scale(1.007,1.020);">3</span>
<span class="t" style="left:1366.60px;top:592px;font-size:10px;font-weight:400;color:#888;transform-origin:0 8px;transform:translateY(0.00px) rotate(0.03deg) scale(1.177,1.020);">m</span>
<div class="b row" style="left:1084px;top:614px;width:311px;height:28px;"></div>
<span class="t" style="left:1119.60px;top:624px;font-size:10px;font-weight:400;color:#2a2a2a;transform-origin:0 8px;transform:translateY(0.00px) rotate(0.03deg) scale(1.061,1.020);-webkit-text-stroke:0.25px #2a2a2a;">URANO</span>
<span class="t" style="left:1211.40px;top:624px;font-size:10px;font-weight:400;color:#2a2a2a;transform-origin:0 8px;transform:translateY(0.00px) rotate(0.03deg) scale(1.079,1.020);-webkit-text-stroke:0.25px #2a2a2a;">ES00081645 4632</span>
<span class="t" style="left:1322.80px;top:624px;font-size:10px;font-weight:700;color:#333;transform-origin:0 8px;transform:translateY(0.00px) rotate(0.03deg) scale(1.007,1.020);">2</span>
<span class="t" style="left:1331.80px;top:624px;font-size:10px;font-weight:400;color:#888;transform-origin:0 8px;transform:translateY(0.00px) rotate(0.03deg) scale(1.070,1.020);">años</span>
<span class="t" style="left:1357.60px;top:624px;font-size:10px;font-weight:700;color:#333;transform-origin:0 8px;transform:translateY(0.00px) rotate(0.03deg) scale(1.007,1.020);">3</span>
<span class="t" style="left:1366.60px;top:624px;font-size:10px;font-weight:400;color:#888;transform-origin:0 8px;transform:translateY(0.00px) rotate(0.03deg) scale(1.177,1.020);">m</span>
<div class="b row" style="left:1084px;top:646px;width:311px;height:28px;"></div>
<div class="b" style="left:1092.9px;top:656.9px;width:6.2px;height:6.2px;background:#78ab5f;border:1.2px solid #5f9149;border-radius:50%;"></div>
<span class="t" style="left:1119.60px;top:656px;font-size:10px;font-weight:400;color:#2a2a2a;transform-origin:0 8px;transform:translateY(0.00px) rotate(0.03deg) scale(1.061,1.020);-webkit-text-stroke:0.25px #2a2a2a;">URANO</span>
<span class="t" style="left:1211.40px;top:656px;font-size:10px;font-weight:400;color:#2a2a2a;transform-origin:0 8px;transform:translateY(0.00px) rotate(0.03deg) scale(1.079,1.020);-webkit-text-stroke:0.25px #2a2a2a;">ES00081645 4632</span>
<span class="t" style="left:1322.80px;top:656px;font-size:10px;font-weight:700;color:#333;transform-origin:0 8px;transform:translateY(0.00px) rotate(0.03deg) scale(1.007,1.020);">2</span>
<span class="t" style="left:1331.80px;top:656px;font-size:10px;font-weight:400;color:#888;transform-origin:0 8px;transform:translateY(0.00px) rotate(0.03deg) scale(1.070,1.020);">años</span>
<span class="t" style="left:1357.60px;top:656px;font-size:10px;font-weight:700;color:#333;transform-origin:0 8px;transform:translateY(0.00px) rotate(0.03deg) scale(1.007,1.020);">3</span>
<span class="t" style="left:1366.60px;top:656px;font-size:10px;font-weight:400;color:#888;transform-origin:0 8px;transform:translateY(0.00px) rotate(0.03deg) scale(1.177,1.020);">m</span>
<div class="b row" style="left:1084px;top:678px;width:311px;height:28px;"></div>
<div class="b" style="left:1092.9px;top:688.9px;width:6.2px;height:6.2px;background:#78ab5f;border:1.2px solid #5f9149;border-radius:50%;"></div>
<span class="t" style="left:1119.60px;top:688px;font-size:10px;font-weight:400;color:#2a2a2a;transform-origin:0 8px;transform:translateY(0.00px) rotate(0.03deg) scale(1.061,1.020);-webkit-text-stroke:0.25px #2a2a2a;">URANO</span>
<span class="t" style="left:1211.40px;top:688px;font-size:10px;font-weight:400;color:#2a2a2a;transform-origin:0 8px;transform:translateY(0.00px) rotate(0.03deg) scale(1.079,1.020);-webkit-text-stroke:0.25px #2a2a2a;">ES00081645 4632</span>
<span class="t" style="left:1322.80px;top:688px;font-size:10px;font-weight:700;color:#333;transform-origin:0 8px;transform:translateY(0.00px) rotate(0.03deg) scale(1.007,1.020);">2</span>
<span class="t" style="left:1331.80px;top:688px;font-size:10px;font-weight:400;color:#888;transform-origin:0 8px;transform:translateY(0.00px) rotate(0.03deg) scale(1.070,1.020);">años</span>
<span class="t" style="left:1357.60px;top:688px;font-size:10px;font-weight:700;color:#333;transform-origin:0 8px;transform:translateY(0.00px) rotate(0.03deg) scale(1.007,1.020);">3</span>
<span class="t" style="left:1366.60px;top:688px;font-size:10px;font-weight:400;color:#888;transform-origin:0 8px;transform:translateY(0.00px) rotate(0.03deg) scale(1.177,1.020);">m</span>
<div class="b row" style="left:1084px;top:710px;width:311px;height:28px;"></div>
<span class="t" style="left:1119.60px;top:720px;font-size:10px;font-weight:400;color:#2a2a2a;transform-origin:0 8px;transform:translateY(0.00px) rotate(0.03deg) scale(1.061,1.020);-webkit-text-stroke:0.25px #2a2a2a;">URANO</span>
<span class="t" style="left:1211.40px;top:720px;font-size:10px;font-weight:400;color:#2a2a2a;transform-origin:0 8px;transform:translateY(0.00px) rotate(0.03deg) scale(1.079,1.020);-webkit-text-stroke:0.25px #2a2a2a;">ES00081645 4632</span>
<span class="t" style="left:1322.80px;top:720px;font-size:10px;font-weight:700;color:#333;transform-origin:0 8px;transform:translateY(0.00px) rotate(0.03deg) scale(1.007,1.020);">2</span>
<span class="t" style="left:1331.80px;top:720px;font-size:10px;font-weight:400;color:#888;transform-origin:0 8px;transform:translateY(0.00px) rotate(0.03deg) scale(1.070,1.020);">años</span>
<span class="t" style="left:1357.60px;top:720px;font-size:10px;font-weight:700;color:#333;transform-origin:0 8px;transform:translateY(0.00px) rotate(0.03deg) scale(1.007,1.020);">3</span>
<span class="t" style="left:1366.60px;top:720px;font-size:10px;font-weight:400;color:#888;transform-origin:0 8px;transform:translateY(0.00px) rotate(0.03deg) scale(1.177,1.020);">m</span>
<div class="b" style="left:1060px;top:730.9px;width:372px;height:64.3px;background:#fff;"></div>
</div></div>
<div class="b" style="left:1036px;top:42px;width:395px;height:772px;border:12px solid #fdc500;border-radius:19px;box-shadow:0 0 10px rgba(70,80,110,.28);"></div>
</div>
</body></html>
